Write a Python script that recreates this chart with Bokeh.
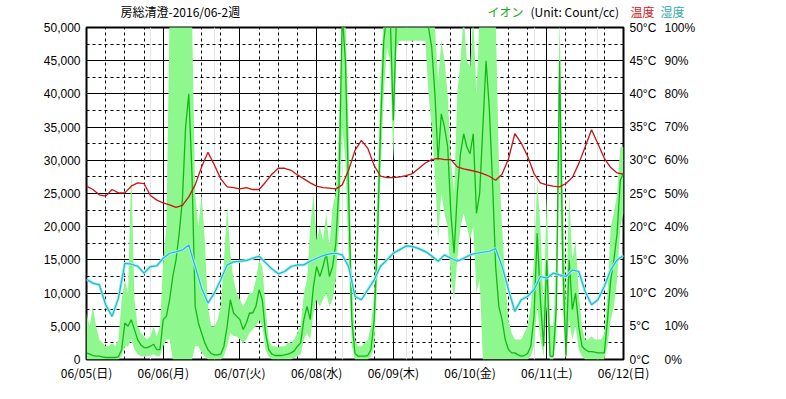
from bokeh.plotting import figure
from bokeh.models import Range1d, LinearAxis, FixedTicker, NumeralTickFormatter, Grid, ColumnDataSource
from bokeh.layouts import column
from bokeh.core.properties import value
from bokeh.embed import file_html
from bokeh.resources import INLINE

FONT = "Noto Sans CJK JP"
NUM_FONT = "Liberation Sans"

# ---------------- data ----------------
title_text = "房総清澄-2016/06-2週"
day_labels = ["06/05(日)", "06/06(月)", "06/07(火)", "06/08(水)",
              "06/09(木)", "06/10(金)", "06/11(土)", "06/12(日)"]

ion_ticks = [0, 5000, 10000, 15000, 20000, 25000, 30000, 35000, 40000, 45000, 50000]
ion_minor = [2500, 7500, 12500, 17500, 22500, 27500, 32500, 37500, 42500, 47500]
temp_ticks = [0, 5, 10, 15, 20, 25, 30, 35, 40, 45, 50]
hum_ticks = [0, 10, 20, 30, 40, 50, 60, 70, 80, 90, 100]

# hourly time axis (hours since 06/05 00:00)
hours = list(range(0, 169))
hours2 = list(range(0, 169, 2))

# temperature (°C), every 2 hours
temp = [26.1, 25.6, 24.8, 24.6, 25.6, 25.1, 25.1, 26.1, 26.6, 26.5,
        24.7, 24.0, 23.6, 23.3, 22.9, 23.2, 24.5, 26.3, 29.0, 31.2,
        29.3, 27.2, 26.0, 25.9, 25.7, 25.9, 25.6, 25.6, 26.7, 27.9,
        28.8, 28.8, 28.5, 27.8, 27.2, 26.6, 26.1, 25.9, 25.8, 25.7,
        26.3, 28.5, 31.5, 33.0, 31.8, 29.2, 27.6, 27.4, 27.4, 27.5,
        27.7, 28.0, 28.8, 29.6, 30.1, 30.3, 30.1, 30.1, 29.0, 28.7,
        28.5, 28.3, 28.0, 27.6, 27.0, 27.9, 30.2, 34.0, 32.6, 30.6,
        28.0, 26.6, 26.3, 26.1, 26.0, 26.5, 27.4, 29.5, 32.0, 34.6,
        32.5, 30.3, 28.9, 28.1, 27.9]

# humidity (%), every 2 hours
hum = [24.2, 23.0, 22.5, 16.5, 13.0, 18.5, 29.0, 28.7, 28.1, 26.0,
       28.0, 28.2, 30.5, 32.0, 32.4, 33.0, 34.5, 28.0, 21.5, 17.0,
       20.0, 24.0, 28.5, 29.4, 29.6, 29.8, 30.5, 31.1, 29.2, 27.3,
       25.8, 26.5, 28.0, 28.5, 28.5, 29.6, 30.5, 31.3, 31.8, 32.0,
       31.5, 28.0, 19.0, 18.0, 21.0, 24.0, 28.1, 30.0, 32.0, 33.1,
       34.2, 34.0, 33.4, 32.5, 31.2, 29.6, 31.5, 30.5, 29.6, 30.5,
       31.5, 32.0, 32.3, 32.6, 33.4, 28.1, 21.1, 14.5, 18.0, 19.0,
       21.0, 25.0, 24.5, 26.0, 25.5, 25.0, 27.0, 26.5, 20.5, 16.5,
       18.0, 22.0, 27.0, 30.0, 31.3]

# ion count (count/cc), hourly mean
ion_mean = [1000, 800, 600, 500, 500, 400, 300, 300, 300, 300, 400, 1500,
            5500, 5000, 6000, 4500, 3000, 2200, 1800, 1800, 2000, 2300, 1500, 1500,
            6000, 6500, 9000, 12500, 15000, 19000, 24000, 35000, 40000, 28000, 8000, 5500,
            4000, 2500, 1500, 900, 700, 700, 800, 2000, 5000, 9000, 7000, 6500,
            6000, 4500, 5500, 7000, 7000, 8000, 10500, 9000, 4000, 1500, 800, 600,
            600, 600, 700, 800, 1000, 1300, 2000, 2500, 6000, 8000, 6000, 11000,
            14000, 12500, 14000, 16000, 12500, 14000, 17500, 26000, 52000, 45000, 25000, 6000,
            900, 500, 500, 500, 600, 1500, 6000, 18000, 35000, 48000, 52000, 52000,
            36000, 52000, 52000, 52000, 52000, 52000, 52000, 52000, 52000, 52000, 52000, 50000,
            47000, 40000, 30000, 37000, 35000, 32000, 22000, 16000, 25000, 31000, 34000, 32000,
            31000, 34000, 22000, 25000, 35000, 45000, 38000, 27000, 14000, 8000, 6000, 3000,
            1500, 1000, 1000, 700, 500, 600, 900, 2000, 6500, 19000, 9000, 2000,
            15000, 500, 500, 8000, 45000, 15000, 500, 15000, 7500, 10000, 5000, 2000,
            1500, 1200, 1200, 1100, 1000, 1000, 1000, 6000, 12000, 15000, 19000, 27000,
            28000]

# ion count hourly min / max (light band)
ion_lo = [0, 0, 0, 0, 0, 0, 0, 0, 0, 0, 0, 500,
          2000, 2000, 3000, 1500, 800, 500, 500, 500, 600, 800, 500, 500,
          2000, 3000, 3000, 0, 0, 0, 0, 0, 0, 0, 2000, 2000,
          1000, 500, 0, 0, 0, 0, 0, 500, 2000, 4000, 3500, 3500,
          3000, 2500, 3000, 4000, 4500, 5000, 6000, 5000, 1500, 500, 0, 0,
          0, 0, 0, 0, 0, 300, 500, 800, 3000, 4000, 3000, 7000,
          9000, 8000, 9000, 10000, 8000, 9000, 12000, 20000, 35000, 30000, 15000, 2000,
          0, 0, 0, 0, 0, 500, 2000, 12000, 28000, 40000, 47000, 45000,
          30000, 47000, 48000, 48000, 48000, 48000, 48000, 48000, 48000, 48000, 48000, 40000,
          35000, 28000, 18000, 25000, 22000, 20000, 12000, 9000, 15000, 20000, 22000, 20000,
          18000, 20000, 10000, 12000, 0, 0, 0, 0, 0, 0, 0, 0,
          0, 0, 0, 0, 0, 0, 0, 500, 2000, 8000, 3000, 500,
          8000, 0, 0, 3000, 30000, 8000, 0, 6000, 3000, 5000, 1500, 500,
          0, 0, 0, 0, 0, 0, 0, 2000, 6000, 8000, 12000, 20000,
          22000]
ion_hi = [7000, 5000, 8000, 5000, 3000, 2500, 2000, 2000, 2500, 2000, 3000, 9000,
          12000, 10000, 29000, 9000, 5000, 4000, 3500, 3000, 3500, 5000, 3500, 5000,
          15000, 20000, 52000, 52000, 52000, 52000, 52000, 52000, 52000, 52000, 25000, 20000,
          25000, 18000, 8000, 5000, 5000, 6000, 8000, 15000, 23000, 16000, 12000, 10000,
          9000, 8000, 9000, 10000, 10000, 12000, 15000, 14000, 8000, 3000, 2000, 2000,
          1800, 2000, 2000, 2500, 2500, 3000, 4000, 5000, 10000, 12000, 20000, 25000,
          18000, 20000, 18000, 22000, 17000, 23000, 25000, 35000, 52000, 52000, 35000, 12000,
          3000, 2000, 2000, 2500, 3000, 5000, 10000, 25000, 42000, 52000, 52000, 52000,
          52000, 52000, 52000, 52000, 52000, 52000, 52000, 52000, 52000, 52000, 52000, 52000,
          52000, 50000, 42000, 48000, 45000, 40000, 30000, 25000, 40000, 45000, 52000, 45000,
          44000, 52000, 40000, 52000, 52000, 52000, 52000, 52000, 52000, 30000, 20000, 12000,
          6000, 4000, 3000, 3000, 3000, 4000, 5000, 8000, 15000, 27000, 20000, 8000,
          25000, 5000, 5000, 16000, 52000, 25000, 8000, 25000, 15000, 18000, 10000, 5000,
          3000, 3000, 3500, 3000, 3000, 3000, 4000, 10000, 20000, 22000, 25000, 32000,
          32000]

# header texts
ion_header = ["イオン", "(Unit: Count/cc)"]
ion_header_colors = ["#22aa22", "black"]
temp_header = "温度"
hum_header = "湿度"

# ---------------- layout sizes ----------------
LEFT, FRAME_W, RIGHT = 86, 537, 100
HEADER_H, TOP = 20, 7
HEADER_Y = 11.2


def style_axis(ax, standoff, color="black", font=FONT):
    ax.axis_line_color = None
    ax.major_tick_line_color = None
    ax.minor_tick_line_color = None
    ax.major_tick_out = 0
    ax.major_tick_in = 0
    ax.major_label_standoff = standoff
    ax.major_label_text_font = font
    ax.major_label_text_font_size = "12px"
    ax.major_label_text_color = color


# ---------------- header strip (x in page pixels, y from top) ----------------
hdr = figure(frame_width=FRAME_W, height=HEADER_H,
             x_range=Range1d(LEFT, LEFT + FRAME_W), y_range=Range1d(HEADER_H, 0),
             x_axis_location=None, y_axis_location=None, output_backend="svg", toolbar_location=None,
             min_border_left=LEFT, min_border_right=RIGHT, min_border_top=0, min_border_bottom=0)
hdr.outline_line_color = None
hdr.xgrid.visible = False
hdr.ygrid.visible = False
hdr.text(x=[120], y=[HEADER_Y], text=[title_text], text_color="black",
         text_font=value(FONT), text_font_size=value("12px"),
         text_align="left", text_baseline="middle")
hsrc = ColumnDataSource(dict(x=[487, 530], y=[HEADER_Y, HEADER_Y], text=ion_header, color=ion_header_colors))
hdr.text(x="x", y="y", text="text", text_color="color", source=hsrc,
         text_font=value(FONT), text_font_size=value("12px"),
         text_align="left", text_baseline="middle")
th_axis = LinearAxis(ticker=FixedTicker(ticks=[HEADER_Y]), major_label_overrides={HEADER_Y: temp_header})
style_axis(th_axis, 7, "#cc2222")
hdr.add_layout(th_axis, "right")
hh_axis = LinearAxis(ticker=FixedTicker(ticks=[HEADER_Y]), major_label_overrides={HEADER_Y: hum_header})
style_axis(hh_axis, 3, "#33aaaa")
hdr.add_layout(hh_axis, "right")

# ---------------- main figure ----------------
p = figure(frame_width=FRAME_W, frame_height=332,
           x_range=Range1d(0, 168), y_range=Range1d(0, 50000),
           x_axis_location=None, y_axis_location=None,
           output_backend="svg", toolbar_location=None,
           min_border_left=LEFT, min_border_top=TOP, min_border_right=RIGHT, min_border_bottom=30,
           background_fill_color="white", border_fill_color="white")
p.outline_line_color = "black"
p.outline_line_width = 2
p.extra_y_ranges = {"temp": Range1d(0, 50), "hum": Range1d(0, 100)}

day_ticks = [24 * i for i in range(len(day_labels))]
six_h = [t for t in range(0, 169, 6) if t % 24 != 0]

p.add_layout(Grid(dimension=0, ticker=FixedTicker(ticks=day_ticks, minor_ticks=six_h),
                  grid_line_color="black", grid_line_width=1,
                  minor_grid_line_color="black", minor_grid_line_dash="3 3"))
p.add_layout(Grid(dimension=1, ticker=FixedTicker(ticks=ion_ticks, minor_ticks=ion_minor),
                  grid_line_color="black", grid_line_width=1,
                  minor_grid_line_color="black", minor_grid_line_dash="3 3"))

left = LinearAxis(ticker=FixedTicker(ticks=ion_ticks), formatter=NumeralTickFormatter(format="0,0"))
style_axis(left, 6, font=NUM_FONT)
p.add_layout(left, "left")

bottom = LinearAxis(ticker=FixedTicker(ticks=day_ticks),
                    major_label_overrides={t: lab for t, lab in zip(day_ticks, day_labels)})
style_axis(bottom, 4)
p.add_layout(bottom, "below")

temp_axis = LinearAxis(y_range_name="temp", ticker=FixedTicker(ticks=temp_ticks),
                       major_label_overrides={t: f"{t}°C" for t in temp_ticks})
style_axis(temp_axis, 6, font=NUM_FONT)
p.add_layout(temp_axis, "right")

hum_axis = LinearAxis(y_range_name="hum", ticker=FixedTicker(ticks=hum_ticks),
                      major_label_overrides={t: f"{t}%" for t in hum_ticks})
style_axis(hum_axis, 5, font=NUM_FONT)
p.add_layout(hum_axis, "right")

# ---------------- glyphs ----------------
p.varea(x=hours, y1=ion_lo, y2=ion_hi, color="#8ef88e", alpha=1.0)
p.line(hours, ion_mean, line_color="#12b812", line_width=1.3)
p.line(hours2, hum, y_range_name="hum", line_color="#a8f0f4", line_width=3)
p.line(hours2, hum, y_range_name="hum", line_color="#1fb8c8", line_width=1.2)
p.line(hours2, temp, y_range_name="temp", line_color="#c81414", line_width=1.3)

layout = column(hdr, p, spacing=0)
open("out.html", "w").write(file_html(layout, INLINE))
